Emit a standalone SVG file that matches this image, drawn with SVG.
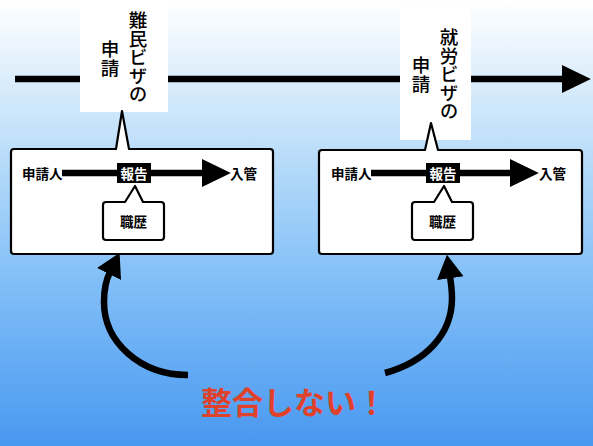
<svg xmlns="http://www.w3.org/2000/svg" width="593" height="446" viewBox="0 0 593 446">
<defs>
<linearGradient id="bg" x1="0" y1="0" x2="0" y2="1">
<stop offset="0" stop-color="#ffffff"/>
<stop offset="0.35" stop-color="#b9dcf9"/>
<stop offset="0.6" stop-color="#87c2f8"/>
<stop offset="1" stop-color="#4898f0"/>
</linearGradient>
<marker id="head" markerUnits="userSpaceOnUse" markerWidth="30" markerHeight="30" viewBox="0 -14 28 28" refX="1" refY="0" orient="auto">
<path d="M0,-13 L27,0 L0,13 Z" fill="#000"/>
</marker>
<marker id="chead" markerUnits="userSpaceOnUse" markerWidth="26" markerHeight="30" viewBox="0 -14 24 28" refX="2" refY="0" orient="auto">
<path d="M0,-12.5 L22,0 L0,12.5 Z" fill="#000"/>
</marker>
<style>
.callout{fill:#fff}
.vt{font-family:"Noto Sans CJK JP",sans-serif;font-weight:500;font-size:18.5px;fill:#000;writing-mode:vertical-rl;text-anchor:middle}
.box{fill:#fff;stroke:#000;stroke-width:2.2;stroke-linejoin:round}
.lbl{font-family:"Noto Sans CJK JP",sans-serif;font-weight:bold;font-size:13.5px;fill:#000;dominant-baseline:central}
.wlbl{font-family:"Noto Sans CJK JP",sans-serif;font-weight:bold;font-size:13.5px;fill:#fff;dominant-baseline:central;text-anchor:middle}
.thick{fill:none;stroke:#000;stroke-width:6.5}
</style>
</defs>
<rect x="0" y="0" width="593" height="446" fill="url(#bg)"/>
<g id="connectors">
<line class="thick" x1="15" y1="79" x2="563" y2="79" marker-end="url(#head)"/>
<path class="thick" d="M188,375 C140,375 104,342 104,302 C104,288 106,280 110,272" marker-end="url(#chead)"/>
<path class="thick" d="M385,373 C425,362 452,335 452,298 C452,290 451,283 450,276" marker-end="url(#chead)"/>
</g>
<g id="callout-refugee">
<rect class="callout" x="80" y="0" width="88" height="112"/>
<text class="vt" x="138" y="57">難民ビザの</text>
<text class="vt" x="110" y="58.5">申請</text>
</g>
<g id="callout-work">
<rect class="callout" x="400" y="7" width="71" height="133"/>
<text class="vt" x="449" y="74">就労ビザの</text>
<text class="vt" x="421" y="74.5">申請</text>
</g>
<g id="box-left">
<path class="box" d="M14,149 H116 L122,111 L129,149 H270 Q273,149 273,152 V251 Q273,254 270,254 H14 Q11,254 11,251 V152 Q11,149 14,149 Z"/>
</g>
<g id="box-right">
<path class="box" d="M322,150 H425 L431,123 L438,150 H579 Q582,150 582,153 V251 Q582,254 579,254 H322 Q319,254 319,251 V153 Q319,150 322,150 Z"/>
</g>
<g id="flow-left">
<line class="thick" x1="62" y1="173" x2="203" y2="173" stroke-width="7" marker-end="url(#head)"/>
<text class="lbl" x="22" y="173">申請人</text>
<text class="lbl" x="230" y="173">入管</text>
</g>
<g id="report-left">
<rect x="117" y="163" width="34" height="20" fill="#000"/>
<text class="wlbl" x="134" y="173">報告</text>
</g>
<g id="career-left">
<path class="box" d="M106,202 H125 L135,186 L143,202 H161 Q164,202 164,205 V237 Q164,240 161,240 H106 Q103,240 103,237 V205 Q103,202 106,202 Z"/>
<text class="lbl" x="133.5" y="221" text-anchor="middle">職歴</text>
</g>
<g id="flow-right">
<line class="thick" x1="371" y1="173" x2="511" y2="173" stroke-width="7" marker-end="url(#head)"/>
<text class="lbl" x="331" y="173">申請人</text>
<text class="lbl" x="539" y="173">入管</text>
</g>
<g id="report-right">
<rect x="426" y="163" width="34" height="20" fill="#000"/>
<text class="wlbl" x="443" y="173">報告</text>
</g>
<g id="career-right">
<path class="box" d="M415,202 H434 L444,186 L452,202 H470 Q473,202 473,205 V237 Q473,240 470,240 H415 Q412,240 412,237 V205 Q412,202 415,202 Z"/>
<text class="lbl" x="442.5" y="221" text-anchor="middle">職歴</text>
</g>
<g id="mismatch">
<text x="294" y="400" font-family="'Noto Sans CJK JP',sans-serif" font-weight="bold" font-size="31" fill="#e0412b" text-anchor="middle" dominant-baseline="central">整合しない！</text>
</g>
</svg>
